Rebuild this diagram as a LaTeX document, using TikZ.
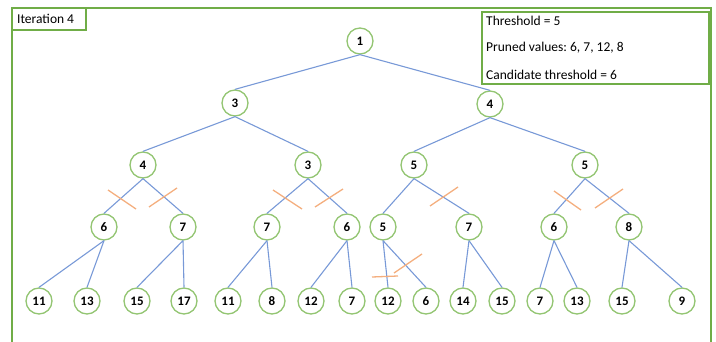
\documentclass[tikz,border=0pt]{standalone}
\usepackage{fontspec}
\setmainfont{Carlito}
\frenchspacing
\definecolor{framegreen}{HTML}{70AD47}
\definecolor{nodegreen}{HTML}{93C572}
\definecolor{edgeblue}{HTML}{7899D7}
\definecolor{cutorange}{HTML}{F4AE7E}
\begin{document}
\begin{tikzpicture}[x=1pt,y=-1pt,
  tn/.style={circle,draw=nodegreen,line width=1.3pt,fill=white,minimum size=26pt,inner sep=0pt,font=\fontsize{13}{14}\selectfont\bfseries},
  edge/.style={draw=edgeblue,line width=1.1pt},
  cut/.style={draw=cutorange,line width=1.3pt},
  lbl/.style={anchor=west,inner sep=0pt,font=\fontsize{13.5}{16}\selectfont}]
\useasboundingbox (0,0) rectangle (716,342);
\draw[framegreen,line width=1.3pt] (12,346) -- (12,8) -- (711,8) -- (711,346);
\draw[framegreen,line width=1.1pt] (12,8) rectangle (86,30);
\draw[framegreen,line width=1.1pt] (482,12) rectangle (709,84);
\node[lbl] (it) at (17,19) {Iteration 4};
\node[lbl] (t1) at (486,21) {Threshold = 5};
\node[lbl] (t2) at (486,48) {Pruned values: 6, 7, 12, 8};
\node[lbl] (t3) at (486,75) {Candidate threshold = 6};
% tree nodes
\node[tn] (n1) at (360,41) {1};
\node[tn] (n3) at (235,103) {3};
\node[tn] (n4) at (490,104) {4};
\node[tn] (a) at (143,165) {4};
\node[tn] (b) at (308,165) {3};
\node[tn] (c) at (414,165) {5};
\node[tn] (d) at (585,165) {5};
\node[tn] (a1) at (104,227) {6};
\node[tn] (a2) at (183,227) {7};
\node[tn] (b1) at (267,227) {7};
\node[tn] (b2) at (347,227) {6};
\node[tn] (c1) at (383,227) {5};
\node[tn] (c2) at (469,227) {7};
\node[tn] (d1) at (554,227) {6};
\node[tn] (d2) at (629,227) {8};
\node[tn] (l1) at (39,301) {11};
\node[tn] (l2) at (87,301) {13};
\node[tn] (l3) at (137,301) {15};
\node[tn] (l4) at (184,301) {17};
\node[tn] (l5) at (228,301) {11};
\node[tn] (l6) at (272,301) {8};
\node[tn] (l7) at (311,301) {12};
\node[tn] (l8) at (352,301) {7};
\node[tn] (l9) at (388,301) {12};
\node[tn] (l10) at (426,301) {6};
\node[tn] (l11) at (463,301) {14};
\node[tn] (l12) at (502,301) {15};
\node[tn] (l13) at (540,301) {7};
\node[tn] (l14) at (577,301) {13};
\node[tn] (l15) at (622,301) {15};
\node[tn] (l16) at (682,301) {9};
% edges
\foreach \p/\q in {n1/n3,n1/n4,n3/a,n3/b,n4/c,n4/d,a/a1,a/a2,b/b1,b/b2,c/c1,c/c2,d/d1,d/d2,
  a1/l1,a1/l2,a2/l3,a2/l4,b1/l5,b1/l6,b2/l7,b2/l8,c1/l9,c1/l10,c2/l11,c2/l12,d1/l13,d1/l14,d2/l15,d2/l16}
  \draw[edge] (\p.south) -- (\q.north);
% cut marks
\draw[cut] (108,190) -- (136,209);
\draw[cut] (149,207) -- (177,188);
\draw[cut] (273,190) -- (302,209);
\draw[cut] (315,207) -- (343,189);
\draw[cut] (430,206) -- (458,187);
\draw[cut] (554,191) -- (581,210);
\draw[cut] (595,208) -- (623,189);
\draw[cut] (372,277) -- (398,276);
\draw[cut] (394,273) -- (422,254);
\end{tikzpicture}
\end{document}
